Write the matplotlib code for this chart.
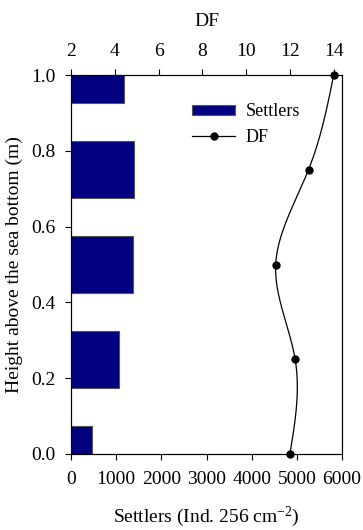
import numpy as np
import matplotlib
matplotlib.use("Agg")
import matplotlib.pyplot as plt
from matplotlib.lines import Line2D
from matplotlib.patches import Patch

heights = [0.0, 0.25, 0.5, 0.75, 1.0]
settlers = [458, 1055, 1373, 1402, 1180]
df_vals = [12.0, 12.24, 11.35, 12.85, 14.0]

plt.rcParams['font.family'] = ['Liberation Serif', 'DejaVu Serif']
plt.rcParams['font.size'] = 14
plt.rcParams['mathtext.fontset'] = 'custom'
plt.rcParams['mathtext.rm'] = 'Liberation Serif'
plt.rcParams['mathtext.it'] = 'Liberation Serif:italic'


def natural_spline(x, y, xs):
    x = np.asarray(x, float); y = np.asarray(y, float)
    n = len(x)
    h = np.diff(x)
    A = np.zeros((n, n)); b = np.zeros(n)
    A[0, 0] = 1; A[-1, -1] = 1
    for i in range(1, n - 1):
        A[i, i - 1] = h[i - 1]
        A[i, i] = 2 * (h[i - 1] + h[i])
        A[i, i + 1] = h[i]
        b[i] = 3 * ((y[i + 1] - y[i]) / h[i] - (y[i] - y[i - 1]) / h[i - 1])
    c = np.linalg.solve(A, b)
    out = np.empty_like(xs)
    for k, xv in enumerate(xs):
        i = min(max(np.searchsorted(x, xv) - 1, 0), n - 2)
        bi = (y[i + 1] - y[i]) / h[i] - h[i] * (2 * c[i] + c[i + 1]) / 3
        di = (c[i + 1] - c[i]) / (3 * h[i])
        t = xv - x[i]
        out[k] = y[i] + bi * t + c[i] * t ** 2 + di * t ** 3
    return out


fig = plt.figure(figsize=(3.63, 5.30), dpi=100)
ax = fig.add_axes([71 / 363, 1 - 454 / 530, 271 / 363, 379 / 530])

ax.barh(heights, settlers, height=0.15, color='#000080', edgecolor='#555555',
        linewidth=0.8, label='Settlers', zorder=2)
ax.set_xlim(0, 6000)
ax.set_ylim(0, 1.0)
ax.set_xticks([0, 1000, 2000, 3000, 4000, 5000, 6000])
ax.set_yticks([0.0, 0.2, 0.4, 0.6, 0.8, 1.0])
ax.set_yticklabels(['0.0', '0.2', '0.4', '0.6', '0.8', '1.0'])
ax.tick_params(axis='x', direction='out', length=4, width=0.8, pad=8)
ax.tick_params(axis='y', direction='out', length=4, width=0.8, pad=7)
ax.set_xlabel('Settlers (Ind. 256 cm$^{\\mathrm{-2}}$)', labelpad=12)
ax.set_ylabel('Height above the sea bottom (m)', labelpad=6)

ax2 = ax.twiny()
ys = np.linspace(0, 1, 200)
xs = natural_spline(heights, df_vals, ys)
ax2.plot(xs, ys, color='black', linewidth=0.9, zorder=3)
ax2.plot(df_vals, heights, 'o', color='black', markersize=5, zorder=4, clip_on=False)
ax2.set_xlim(2, 14.38)
ax2.set_xticks([2, 4, 6, 8, 10, 12, 14])
ax2.tick_params(direction='out', length=4, width=0.8, pad=7)
ax2.set_xlabel('DF', labelpad=12)
ax2.set_ylim(0, 1.0)

handles = [Patch(facecolor='#000080', edgecolor='#555555', linewidth=0.8),
           Line2D([], [], color='black', marker='o', markersize=5, linewidth=0.9)]
ax2.legend(handles, ['Settlers', 'DF'], loc='upper left', bbox_to_anchor=(121 / 271, 0.925),
           frameon=False, handlelength=2.4, handleheight=0.5, labelspacing=0.45,
           handletextpad=0.55, borderaxespad=0, borderpad=0, fontsize=13)

for a in (ax, ax2):
    for s in a.spines.values():
        s.set_linewidth(0.8)

fig.savefig('out.png', dpi=100)
